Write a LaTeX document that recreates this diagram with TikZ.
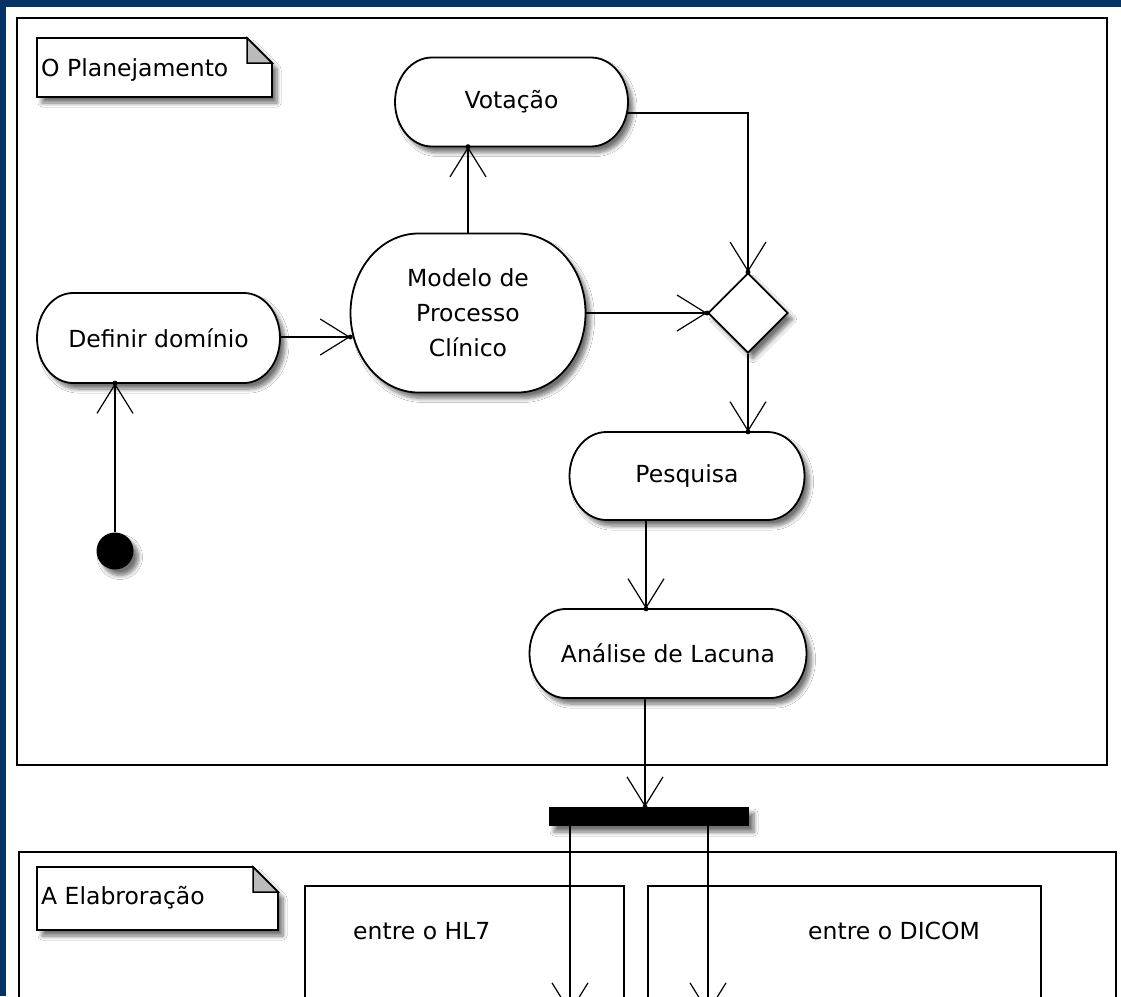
\documentclass[tikz,border=0pt]{standalone}
\usepackage{fontspec}
\setmainfont{DejaVu Sans}
\usetikzlibrary{arrows.meta,shapes.geometric,shadows.blur,calc}
\definecolor{frameblue}{RGB}{4,52,102}
\definecolor{foldgray}{RGB}{187,187,187}
% activity: pill outline with elliptical ends, plus a named node carrying the text
% #1 name, #2 cx, #3 cy, #4 width, #5 height, #6 horizontal end radius, #7 text
\newcommand\activity[7]{%
  \pgfmathsetmacro\actL{#2-#4/2}\pgfmathsetmacro\actR{#2+#4/2}%
  \pgfmathsetmacro\actT{#3-#5/2}\pgfmathsetmacro\actB{#3+#5/2}%
  \pgfmathsetmacro\actKx{0.5523*#6}\pgfmathsetmacro\actKy{0.5523*#5/2}%
  \path[actline] (\actL+#6,\actT) -- (\actR-#6,\actT)
     .. controls (\actR-#6+\actKx,\actT) and (\actR,#3-\actKy) .. (\actR,#3)
     .. controls (\actR,#3+\actKy) and (\actR-#6+\actKx,\actB) .. (\actR-#6,\actB)
     -- (\actL+#6,\actB)
     .. controls (\actL+#6-\actKx,\actB) and (\actL,#3+\actKy) .. (\actL,#3)
     .. controls (\actL,#3-\actKy) and (\actL+#6-\actKx,\actT) .. (\actL+#6,\actT) -- cycle;
  \node[actnode, minimum width=#4pt, minimum height=#5pt] (#1) at (#2,#3) {#7};}
\begin{document}
\begin{tikzpicture}[
  x=1pt, y=-1pt,
  every node/.style={font=\fontsize{23.5}{35}\selectfont},
  shade/.style={blur shadow={shadow xshift=5pt,shadow yshift=-6pt,shadow blur radius=4pt,
                             shadow blur steps=8,shadow opacity=55}},
  actline/.style={draw, line width=1.8pt, fill=white, shade},
  actnode/.style={inner sep=0pt, align=center},
  arr/.style={line width=1.8pt, -{Straight Barb[length=29pt,width=36pt,line width=1.2pt]}},
  panel/.style={draw, line width=1.8pt},
  notebox/.style={draw, line width=1.8pt, fill=white, shade},
  fold/.style={draw, line width=1.5pt, fill=foldgray},
  label/.style={anchor=base west, inner sep=0pt},
  tipdot/.style={fill=black}
]
\useasboundingbox (0,0) rectangle (1121,996);
\clip (0,0) rectangle (1121,996);

% window frame
\fill[frameblue] (0,0) rectangle (1121,996);
\fill[white] (6,7) rectangle (1121,996);

% partitions
\draw[panel] (17,18) rectangle (1107,765);
\draw[panel] (19,852) rectangle (1116,1030);
\draw[panel] (305,886) rectangle (624,1030);
\draw[panel] (648,886) rectangle (1041,1030);

% notes with folded corners
\path[notebox] (37,38) -- (247,38) -- (272,63) -- (272,97) -- (37,97) -- cycle;
\path[fold] (247,38) -- (247,63) -- (272,63) -- cycle;
\node[label] (planning) at (41,76) {O Planejamento};

\path[notebox] (37,867) -- (253,867) -- (278,892) -- (278,930) -- (37,930) -- cycle;
\path[fold] (253,867) -- (253,892) -- (278,892) -- cycle;
\node[label] (elab) at (41,904) {A Elabroração};

\node[label] (hl7) at (353,939) {entre o HL7};
\node[label] (dicom) at (808,939) {entre o DICOM};

% activities
\activity{vot}{511.5}{102}{233}{89}{37}{Votação}
\activity{def}{158.5}{338}{243}{90}{36}{Definir domínio}
\activity{mod}{468}{313}{235}{159}{68}{Modelo de\\Processo\\Clínico}
\activity{pes}{687}{476}{235}{88}{37}{Pesquisa}
\activity{ana}{668}{653.5}{277}{89}{36}{Análise de Lacuna}
\node[draw, diamond, line width=1.8pt, fill=white, minimum width=80pt, minimum height=80pt,
  inner sep=0pt, shade] (dia) at (748,313) {};
\node[circle, fill=black, minimum size=37pt, inner sep=0pt, shade] (init) at (115,551) {};

% free ends of the fork branches
\coordinate (forkL) at (570,1013);
\coordinate (forkR) at (708,1013);

% connectors
\draw[arr] (init.north) -- (init.north |- def.south);
\draw[arr] (def.east |- 0,337) -- (mod.west |- 0,337);
\draw[arr] (mod.north) -- (mod.north |- vot.south);
\draw[arr] ($(vot.east)+(-1,11)$) -| (dia.north);
\draw[arr] (mod.east) -- (dia.west);
\draw[arr] (dia.south) -- (dia.south |- pes.north);
\draw[arr] ([xshift=-41pt]pes.south) -- ([xshift=-41pt]pes.south |- ana.north);
\draw[arr] ([xshift=-23pt]ana.south) -- ([xshift=-23pt]ana.south |- 0,807);
\draw[arr] (570,826) -- (forkL);
\draw[arr] (708,826) -- (forkR);

% fork bar
\node[fill=black, minimum width=200pt, minimum height=19pt, inner sep=0pt, shade] (bar) at (649,816.5) {};

% tip dots
\fill[tipdot] (init.north |- def.south) circle (2.5pt);
\fill[tipdot] (mod.west |- 0,337) circle (2.5pt);
\fill[tipdot] (mod.north |- vot.south) circle (2.5pt);
\fill[tipdot] (dia.north) circle (2.5pt);
\fill[tipdot] (dia.west) circle (2.5pt);
\fill[tipdot] (dia.south |- pes.north) circle (2.5pt);
\fill[tipdot] ([xshift=-41pt]pes.south |- ana.north) circle (2.5pt);
\fill[tipdot] ([xshift=-23pt]ana.south |- 0,807) circle (2.5pt);
\end{tikzpicture}
\end{document}
